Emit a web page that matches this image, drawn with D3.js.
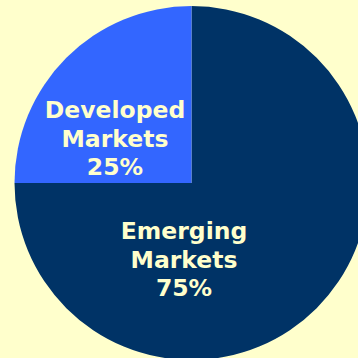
<!DOCTYPE html>
<html>
<head>
<meta charset="utf-8">
<script src="https://cdn.jsdelivr.net/npm/d3@7"></script>
<style>
  html, body { margin: 0; padding: 0; background: #FFFFCC; }
  svg { display: block; }
</style>
</head>
<body>
<script>
// Market split shares (percent)
const categories = ["Emerging Markets", "Developed Markets"];
const labelLines = [["Emerging", "Markets"], ["Developed", "Markets"]];
const values = [75, 25];
const colors = ["#003366", "#3366FF"];

const W = 358, H = 358;
const cx = 191.5, cy = 183, R = 177;

const svg = d3.select("body").append("svg")
  .attr("width", W).attr("height", H);

svg.append("rect").attr("width", W).attr("height", H).attr("fill", "#FFFFCC");

const pie = d3.pie().sort(null).value(d => d)(values);
const arc = d3.arc().innerRadius(0).outerRadius(R);

const g = svg.append("g").attr("transform", `translate(${cx},${cy})`);

g.selectAll("path.slice")
  .data(pie)
  .join("path")
  .attr("class", "slice")
  .attr("d", arc)
  .attr("fill", (d, i) => colors[i]);

// Label anchor for each slice (baseline of the middle line):
// angle from 12 o'clock, clockwise, and distance from the centre
const labelPolar = [
  { r: 85.0, a: Math.PI + 0.0883 },
  { r: 84.7, a: -1.1277 }
];

const lineH = 28.7;
const labels = g.selectAll("text.lbl")
  .data(pie)
  .join("text")
  .attr("class", "lbl")
  .attr("text-anchor", "middle")
  .attr("font-family", "DejaVu Sans, Verdana, sans-serif")
  .attr("font-weight", "bold")
  .attr("font-size", 23.5)
  .attr("fill", "#FFFFCC")
  .attr("transform", (d, i) => {
    const p = labelPolar[i];
    return `translate(${p.r * Math.sin(p.a)},${-p.r * Math.cos(p.a)})`;
  });

labels.each(function(d, i) {
  const t = d3.select(this);
  const lines = labelLines[i].concat([values[i] + "%"]);
  lines.forEach((s, k) => {
    t.append("tspan")
      .attr("x", 0)
      .attr("y", (k - 1) * lineH)
      .text(s);
  });
});
</script>
</body>
</html>
